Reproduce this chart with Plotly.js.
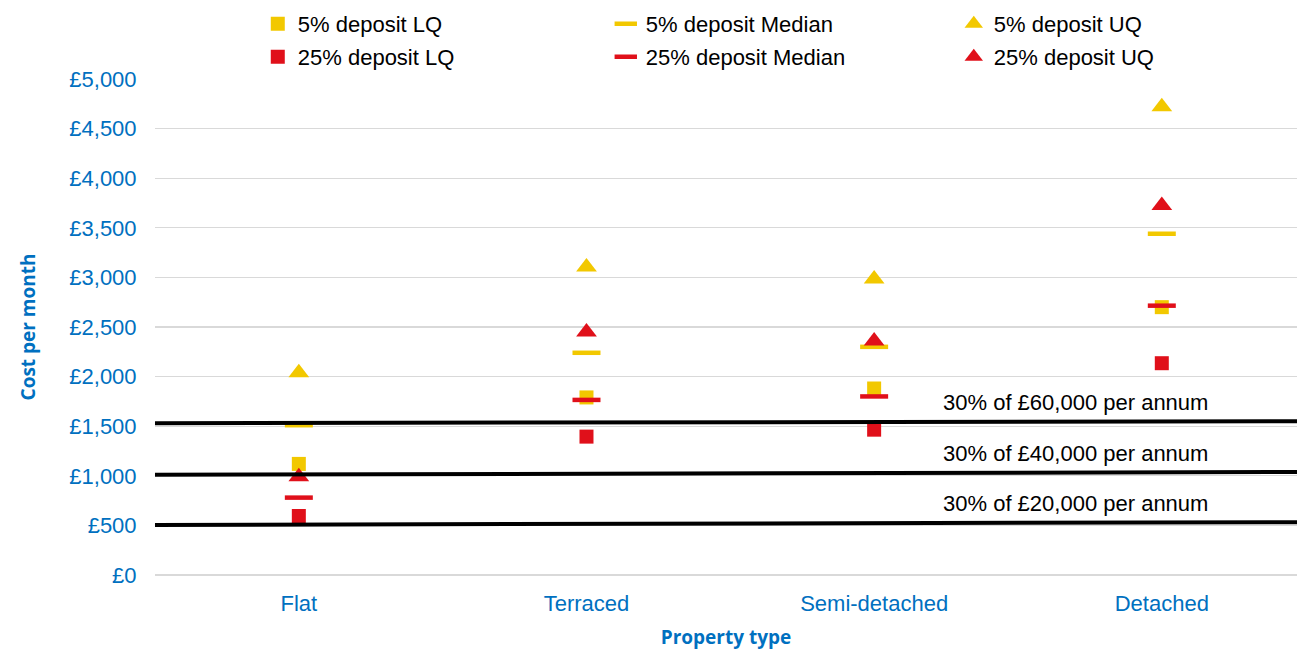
<!DOCTYPE html>
<html>
<head>
<meta charset="utf-8">
<script src="https://cdn.plot.ly/plotly-3.0.1.min.js"></script>
<style>html,body{margin:0;padding:0;background:#fff;}#chart{width:1297px;height:650px;}</style>
</head>
<body>
<div id="chart"></div>
<script>
const categories = ["Flat", "Terraced", "Semi-detached", "Detached"];
const dep5LQ = [1120, 1790, 1880, 2700];
const dep5Median = [1510, 2240, 2300, 3440];
const dep5UQ = [2040, 3105, 2985, 4720];
const dep25LQ = [595, 1395, 1465, 2135];
const dep25Median = [780, 1765, 1800, 2715];
const dep25UQ = [990, 2450, 2360, 3725];
const incomeLabels = ["30% of £60,000 per annum", "30% of £40,000 per annum", "30% of £20,000 per annum"];
const incomeLineStart = [1530, 1010, 505];
const incomeLineEnd = [1550, 1038, 533];
const yTicks = [0, 500, 1000, 1500, 2000, 2500, 3000, 3500, 4000, 4500, 5000];

const YELLOW = "#F2C800";
const RED = "#E0101A";
const BLUE = "#0070C0";
const FONT = "Liberation Sans, Arial, sans-serif";
const TITLEFONT = "Open Sans, sans-serif";

function sq(name, y, color, legend) {
  return {type: "scatter", mode: "markers", name: name, x: categories, y: y, legend: legend,
    marker: {symbol: "square", size: 14, color: color}};
}
function med(name, y, color, legend) {
  return {type: "scatter", mode: "markers", name: name, x: categories, y: y, legend: legend,
    marker: {symbol: "line-ew", size: 20, color: color, line: {width: 4.5, color: color}}};
}
function tri(name, y, color, legend) {
  return {type: "scatter", mode: "markers", name: name, x: categories, y: y, legend: legend,
    marker: {symbol: "triangle-up", size: 18, color: color}};
}

const traces = [
  sq("5% deposit LQ", dep5LQ, YELLOW, "legend"),
  med("5% deposit Median", dep5Median, YELLOW, "legend"),
  tri("5% deposit UQ", dep5UQ, YELLOW, "legend"),
  sq("25% deposit LQ", dep25LQ, RED, "legend2"),
  med("25% deposit Median", dep25Median, RED, "legend2"),
  tri("25% deposit UQ", dep25UQ, RED, "legend2")
];

const shapes = incomeLineStart.map((v, i) => ({
  type: "line", xref: "paper", yref: "y", x0: 0, x1: 1, y0: v, y1: incomeLineEnd[i],
  line: {color: "#000", width: 4}, layer: "above"
}));

const annotations = incomeLabels.map((t, i) => ({
  text: t, xref: "paper", yref: "y", x: 0.806, xanchor: "center", yanchor: "bottom",
  y: incomeLineEnd[i], yshift: 4, showarrow: false,
  font: {family: FONT, size: 22, color: "#000"}
}));

const legendBase = {
  orientation: "h", xref: "paper", yref: "paper", xanchor: "left", yanchor: "middle",
  x: 0.09, entrywidth: 303, entrywidthmode: "pixels", itemwidth: 30,
  font: {family: FONT, size: 22, color: "#000"}, bgcolor: "rgba(0,0,0,0)", itemclick: false
};

const layout = {
  width: 1297, height: 650,
  margin: {l: 155, r: 0, t: 79, b: 75, autoexpand: false},
  paper_bgcolor: "#fff", plot_bgcolor: "#fff",
  showlegend: true,
  legend: Object.assign({}, legendBase, {y: (575 - 24) / 496}),
  legend2: Object.assign({}, legendBase, {y: (575 - 57) / 496}),
  xaxis: {
    type: "category", range: [-0.5, 3.47], showgrid: false, zeroline: false, showline: false,
    ticks: "outside", ticklen: 9, tickcolor: "rgba(0,0,0,0)", tickfont: {family: FONT, size: 22, color: BLUE},
    title: {text: "<b>Property type</b>", font: {family: TITLEFONT, size: 19, color: BLUE}, standoff: 17}
  },
  yaxis: {
    range: [0, 5000], tickvals: yTicks, ticktext: yTicks.map(v => "£" + v.toLocaleString("en-GB")),
    showgrid: true, gridcolor: "#D9D9D9", gridwidth: 1.3, zeroline: true, zerolinecolor: "#D9D9D9", zerolinewidth: 1.3,
    showline: false, ticks: "outside", ticklen: 13, tickcolor: "rgba(0,0,0,0)",
    tickfont: {family: FONT, size: 22, color: BLUE},
    title: {text: "<b>Cost per month</b>", font: {family: TITLEFONT, size: 19, color: BLUE}, standoff: 28}
  },
  shapes: shapes,
  annotations: annotations
};

Plotly.newPlot("chart", traces, layout, {displayModeBar: false, staticPlot: true});
</script>
</body>
</html>
